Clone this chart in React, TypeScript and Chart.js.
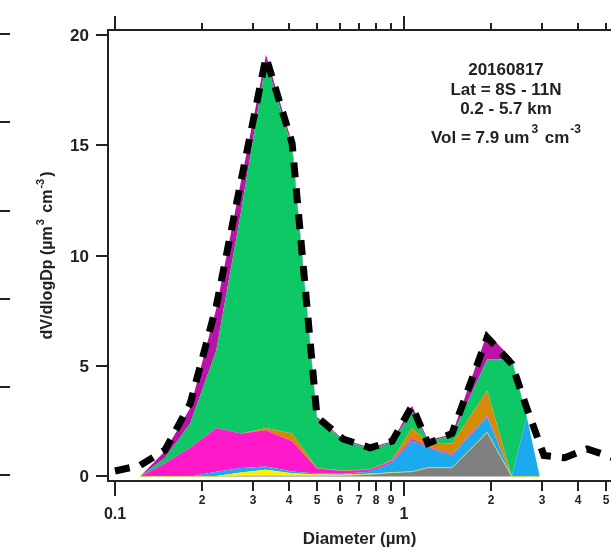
import { useEffect, useRef } from "react";
import { Chart, registerables } from "chart.js";

Chart.register(...registerables);

// Bin diameters (µm) shared by every composition class
const diameters = [0.122, 0.149, 0.182, 0.224, 0.273, 0.333, 0.41, 0.5, 0.615, 0.763, 0.91, 1.066, 1.21, 1.466, 1.94, 2.36, 2.66, 2.95];

// dV/dlogDp of each class (µm³ cm⁻³), stacked bottom to top
const grayVals = [0, 0, 0, 0, 0.03, 0.05, 0.05, 0.04, 0.05, 0.1, 0.18, 0.22, 0.4, 0.4, 2.0, 0, 0, 0];
const yellowVals = [0, 0, 0, 0.02, 0.15, 0.25, 0.1, 0.05, 0.03, 0.02, 0, 0, 0, 0, 0, 0, 0, 0];
const blueVals = [0, 0, 0, 0.2, 0.2, 0.15, 0.08, 0.05, 0.05, 0.1, 0.45, 1.4, 0.9, 0.55, 0.7, 0, 2.7, 0];
const pinkVals = [0, 0.6, 1.3, 1.98, 1.57, 1.65, 1.37, 0.22, 0.12, 0.08, 0.08, 0.1, 0.05, 0.05, 0.05, 0, 0, 0];
const orangeVals = [0, 0, 0, 0, 0, 0.1, 0.35, 0.02, 0.02, 0.02, 0.05, 0.48, 0.2, 0.5, 1.15, 0, 0, 0];
const greenVals = [0, 0.25, 1.1, 3.5, 10.05, 16.6, 12.95, 2.22, 1.38, 0.93, 0.79, 0.75, 0.05, 0.35, 1.4, 5.3, 0, 0];
const purpleVals = [0, 0.3, 0.7, 1.9, 1.4, 0.3, 0.2, 0.1, 0.05, 0.05, 0.05, 0.25, 0.05, 0.05, 1.2, 0.05, 0, 0];

// Total measured distribution (dashed curve)
const totalDiameters = [0.1, 0.122, 0.149, 0.182, 0.224, 0.273, 0.333, 0.41, 0.5, 0.615, 0.763, 0.91, 1.066, 1.21, 1.466, 1.94, 2.36, 2.66, 3.05, 3.6, 4.3, 5.3];
const totalVals = [0.25, 0.5, 1.2, 3.3, 7.7, 13.4, 19.0, 15.1, 2.7, 1.7, 1.3, 1.6, 3.2, 1.5, 1.95, 6.3, 5.1, 3.1, 0.95, 0.85, 1.25, 0.85];

// Axis ticks
const yTicks = [0, 5, 10, 15, 20];
const neighbourTicks = [0, 4, 8, 12, 16, 20];
const xTickValues = [0.1, 0.2, 0.3, 0.4, 0.5, 0.6, 0.7, 0.8, 0.9, 1, 2, 3, 4, 5];
const xTickLabels = ["0.1", "2", "3", "4", "5", "6", "7", "8", "9", "1", "2", "3", "4", "5"];
const majorTicks = [0.1, 1];

const infoLines = ["20160817", "Lat = 8S - 11N", "0.2 - 5.7 km"];

const FONT = '"Liberation Sans", Arial, sans-serif';
const INK = "#222222";

const layers = [
  { name: "gray", values: grayVals, color: "#808080", border: "#C9DE6A" },
  { name: "yellow", values: yellowVals, color: "#FFF200", border: "rgba(0,0,0,0)" },
  { name: "blue", values: blueVals, color: "#1CA9EE", border: "rgba(0,0,0,0)" },
  { name: "pink", values: pinkVals, color: "#FF19C9", border: "rgba(0,0,0,0)" },
  { name: "orange", values: orangeVals, color: "#D38B08", border: "rgba(0,0,0,0)" },
  { name: "green", values: greenVals, color: "#0EC765", border: "rgba(0,0,0,0)" },
  { name: "purple", values: purpleVals, color: "#BA14A6", border: "rgba(0,0,0,0)" },
];

type Part = { t: string; sup?: boolean; gap?: number };

function partsWidth(ctx: CanvasRenderingContext2D, parts: Part[], size: number, supSize: number) {
  let w = 0;
  for (const p of parts) {
    ctx.font = `bold ${p.sup ? supSize : size}px ${FONT}`;
    w += (p.gap || 0) + ctx.measureText(p.t).width;
  }
  return w;
}

function drawParts(ctx: CanvasRenderingContext2D, parts: Part[], x: number, y: number, size: number, supSize: number, rise: number) {
  let cx = x;
  ctx.textAlign = "left";
  ctx.textBaseline = "alphabetic";
  for (const p of parts) {
    cx += p.gap || 0;
    ctx.font = `bold ${p.sup ? supSize : size}px ${FONT}`;
    ctx.fillText(p.t, cx, p.sup ? y - rise : y);
    cx += ctx.measureText(p.t).width;
  }
}

const axesPlugin = {
  id: "frameAxes",
  afterDraw(chart: any) {
    const { ctx, chartArea: a, scales } = chart;
    const xs = scales.x;
    const ys = scales.y;
    const left = Math.round(a.left);
    const top = Math.round(a.top);
    const bottom = Math.round(a.bottom);
    ctx.save();
    ctx.fillStyle = INK;

    // frame lines: left, top, bottom (2 px wide)
    ctx.fillRect(left - 1, top - 1, 2, bottom - top + 2);
    ctx.fillRect(left - 1, top - 1, chart.width - left + 1, 2);
    ctx.fillRect(left - 1, bottom - 1, chart.width - left + 1, 2);

    // y tick marks
    for (const v of yTicks) {
      const py = Math.round(ys.getPixelForValue(v));
      ctx.fillRect(left - 12, py - 1, 12, 2);
    }
    // stubs of the neighbouring panel's axis
    for (const v of neighbourTicks) {
      const py = Math.round(ys.getPixelForValue(v)) - 1;
      ctx.fillRect(0, py - 1, 10, 2);
    }
    // x tick marks, bottom and mirrored on top
    for (const v of xTickValues) {
      const px = Math.round(xs.getPixelForValue(v));
      const major = majorTicks.includes(v);
      const down = major ? 15 : 10;
      const up = major ? 14 : 7;
      ctx.fillRect(px - 1, bottom, 2, down);
      ctx.fillRect(px - 1, top - up, 2, up);
    }

    // y tick labels
    ctx.font = `bold 17px ${FONT}`;
    ctx.textAlign = "right";
    ctx.textBaseline = "middle";
    for (const v of yTicks) {
      const py = Math.round(ys.getPixelForValue(v));
      ctx.fillText(String(v), left - 19, py + 1);
    }

    // x tick labels
    ctx.textAlign = "center";
    ctx.textBaseline = "alphabetic";
    xTickValues.forEach((v, i) => {
      const px = Math.round(xs.getPixelForValue(v));
      if (majorTicks.includes(v)) {
        ctx.font = `bold 16px ${FONT}`;
        ctx.fillText(xTickLabels[i], px, 519);
      } else {
        ctx.font = `bold 12px ${FONT}`;
        ctx.fillText(xTickLabels[i], px, 503.5);
      }
    });

    // x title
    ctx.font = `bold 17px ${FONT}`;
    ctx.fillText("Diameter (µm)", (a.left + a.right) / 2, 544);

    // y title (rotated)
    const yParts: Part[] = [
      { t: "dV/dlogDp (µm" },
      { t: "3", sup: true, gap: 1 },
      { t: " cm", gap: 2 },
      { t: "-3", sup: true, gap: 1 },
      { t: ")", gap: 2 },
    ];
    const yw = partsWidth(ctx, yParts, 16, 11);
    ctx.save();
    ctx.translate(52, (a.top + a.bottom) / 2);
    ctx.rotate(-Math.PI / 2);
    drawParts(ctx, yParts, -yw / 2, 0, 16, 11, 8);
    ctx.restore();

    // info block
    const cx = 506;
    ctx.font = `bold 17px ${FONT}`;
    ctx.textAlign = "center";
    ctx.textBaseline = "alphabetic";
    const baselines = [75, 94.5, 114];
    infoLines.forEach((s, i) => ctx.fillText(s, cx, baselines[i]));
    const volParts: Part[] = [
      { t: "Vol = 7.9 um" },
      { t: "3", sup: true, gap: 2 },
      { t: " cm", gap: 2 },
      { t: "-3", sup: true, gap: 1 },
    ];
    const vw = partsWidth(ctx, volParts, 17, 12);
    drawParts(ctx, volParts, cx - vw / 2, 142.5, 17, 12, 10);

    ctx.restore();
  },
};

export default function App() {
  const canvasRef = useRef<HTMLCanvasElement>(null);

  useEffect(() => {
    const canvas = canvasRef.current;
    if (!canvas) return;

    const stacked = layers.map((l, i) => ({
      label: l.name,
      data: diameters.map((d, j) => ({ x: d, y: l.values[j] })),
      backgroundColor: l.color,
      borderColor: l.border,
      borderWidth: 1,
      pointRadius: 0,
      tension: 0,
      fill: i === 0 ? "origin" : "-1",
      stack: "classes",
    }));

    const total = {
      label: "total",
      data: totalDiameters.map((d, j) => ({ x: d, y: totalVals[j] })),
      borderColor: "#000000",
      borderWidth: 7,
      borderDash: [15, 11],
      borderCapStyle: "butt",
      pointRadius: 0,
      tension: 0,
      fill: false,
      stack: "total",
      order: -1,
    };

    const chart = new Chart(canvas, {
      type: "line",
      data: { datasets: [...stacked, total] as any },
      options: {
        responsive: false,
        maintainAspectRatio: false,
        animation: false,
        layout: { autoPadding: false, padding: { left: 108, right: 0, top: 30, bottom: 69 } },
        plugins: { legend: { display: false }, tooltip: { enabled: false } },
        scales: {
          x: { type: "logarithmic", min: 0.09458, max: 5.203, display: false },
          y: { type: "linear", min: -0.204, max: 20.2265, stacked: true, display: false },
        },
      } as any,
      plugins: [axesPlugin],
    });

    return () => chart.destroy();
  }, []);

  return (
    <div style={{ position: "absolute", left: 0, top: 0, width: 611, height: 550, background: "#ffffff" }}>
      <canvas ref={canvasRef} width={611} height={550} style={{ display: "block", width: 611, height: 550 }} />
    </div>
  );
}
